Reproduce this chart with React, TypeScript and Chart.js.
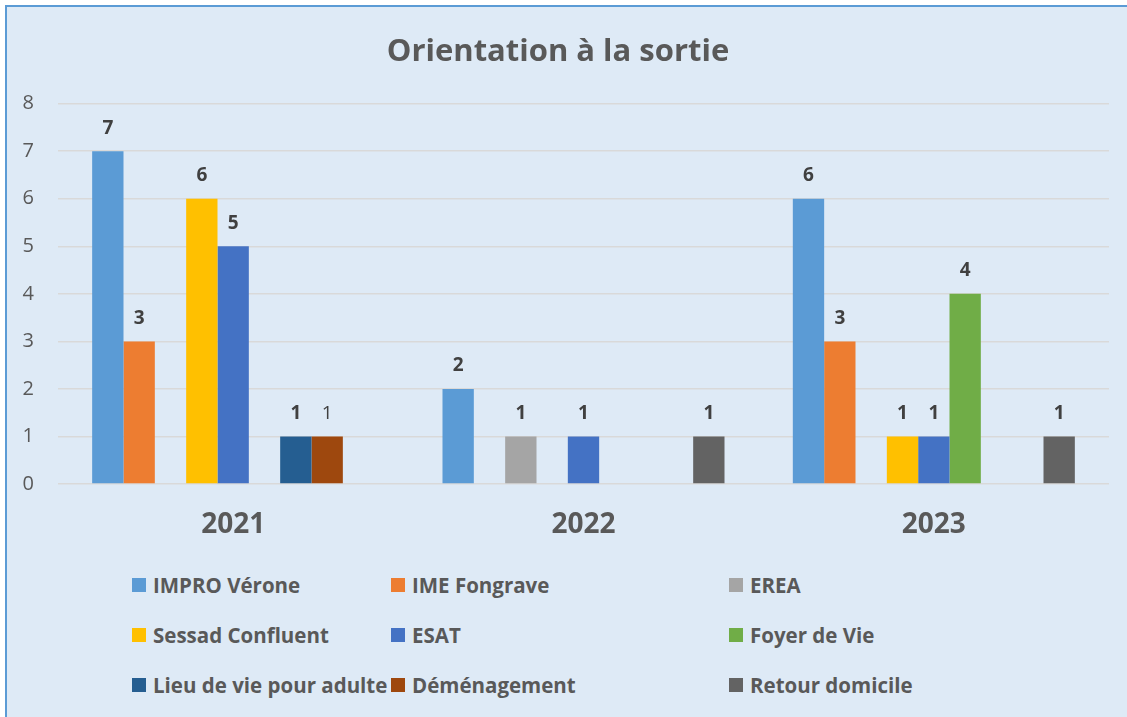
import React, { useEffect, useRef } from "react";
import { Chart, registerables } from "chart.js";

Chart.register(...registerables);

const categories = ["2021", "2022", "2023"];
const seriesNames = [
  "IMPRO Vérone",
  "IME Fongrave",
  "EREA",
  "Sessad Confluent",
  "ESAT",
  "Foyer de Vie",
  "Lieu de vie pour adulte",
  "Déménagement",
  "Retour domicile",
];
const improVerone = [7, 2, 6];
const imeFongrave = [3, 0, 3];
const erea = [0, 1, 0];
const sessadConfluent = [6, 0, 1];
const esat = [5, 1, 1];
const foyerDeVie = [0, 0, 4];
const lieuDeVie = [1, 0, 0];
const demenagement = [1, 0, 0];
const retourDomicile = [0, 1, 1];
const yTicks = [0, 1, 2, 3, 4, 5, 6, 7, 8];

const seriesValues = [
  improVerone,
  imeFongrave,
  erea,
  sessadConfluent,
  esat,
  foyerDeVie,
  lieuDeVie,
  demenagement,
  retourDomicile,
];
const colors = [
  "#5B9BD5",
  "#ED7D31",
  "#A5A5A5",
  "#FFC000",
  "#4472C4",
  "#70AD47",
  "#255E91",
  "#9E480E",
  "#636363",
];

const FONT = "'Open Sans', 'Noto Sans', sans-serif";

const labelPlugin = {
  id: "valueLabels",
  afterDatasetsDraw(chart: any) {
    const ctx = chart.ctx;
    ctx.save();
    ctx.textAlign = "center";
    ctx.textBaseline = "middle";
    ctx.fillStyle = "#404040";
    chart.data.datasets.forEach((ds: any, i: number) => {
      const meta = chart.getDatasetMeta(i);
      meta.data.forEach((bar: any, j: number) => {
        const v = ds.data[j];
        if (!v) return;
        const normal = i === 7;
        ctx.font = `${normal ? "normal" : "bold"} 19px ${FONT}`;
        ctx.fillText(String(v), bar.x, bar.y - 23);
      });
    });
    ctx.restore();
  },
};

export default function App() {
  const ref = useRef<HTMLCanvasElement>(null);
  useEffect(() => {
    const chart = new Chart(ref.current!, {
      type: "bar",
      data: {
        labels: categories,
        datasets: seriesNames.map((name, i) => ({
          label: name,
          data: seriesValues[i],
          backgroundColor: colors[i],
          categoryPercentage: 0.805,
          barPercentage: 1,
        })),
      },
      options: {
        animation: false,
        responsive: false,
        maintainAspectRatio: false,
        layout: { padding: { top: 0, right: 18, bottom: 12, left: 0 } },
        plugins: {
          legend: { display: false },
          tooltip: { enabled: false },
          title: {
            display: true,
            text: "Orientation à la sortie",
            color: "#595959",
            font: { family: FONT, size: 31, weight: "bold" },
            padding: { top: 27, bottom: 32.5 },
          },
        },
        scales: {
          x: {
            afterFit(scale: any) {
              scale.height = 56;
            },
            grid: { display: false, drawTicks: false },
            border: { display: false },
            ticks: {
              color: "#595959",
              padding: 24,
              maxRotation: 0,
              font: { family: FONT, size: 28, weight: "bold" },
            },
          },
          y: {
            min: 0,
            max: 8,
            afterFit(scale: any) {
              scale.width = 51;
            },
            afterBuildTicks(scale: any) {
              scale.ticks = yTicks.map((v) => ({ value: v }));
            },
            grid: { color: "#D9D9D9", lineWidth: 1.5, drawTicks: false },
            border: { display: false },
            ticks: {
              color: "#595959",
              padding: 24,
              font: { family: FONT, size: 20 },
            },
          },
        },
      },
      plugins: [labelPlugin],
    });
    return () => chart.destroy();
  }, []);

  const legendCols = [125, 384, 722];
  const legendRows = [578, 628, 678];

  return (
    <div
      style={{
        position: "fixed",
        left: 5,
        top: 5,
        width: 1140,
        height: 730,
        border: "2px solid #5B9BD5",
        background: "#DEEAF6",
        boxSizing: "border-box",
        overflow: "hidden",
      }}
    >
      <canvas
        ref={ref}
        width={1120}
        height={545}
        style={{ position: "absolute", left: 0, top: 0, width: 1120, height: 545 }}
      />
      {seriesNames.map((name, i) => {
        const row = Math.floor(i / 3);
        const col = i % 3;
        return (
          <div
            key={name}
            style={{
              position: "absolute",
              left: legendCols[col],
              top: legendRows[row] - 15,
              height: 30,
              display: "flex",
              alignItems: "center",
              whiteSpace: "nowrap",
              fontFamily: FONT,
              fontWeight: "bold",
              fontSize: 20.5,
              color: "#595959",
            }}
          >
            <span
              style={{
                display: "inline-block",
                width: 14,
                height: 14,
                background: colors[i],
                marginRight: 7,
              }}
            />
            {name}
          </div>
        );
      })}
    </div>
  );
}
